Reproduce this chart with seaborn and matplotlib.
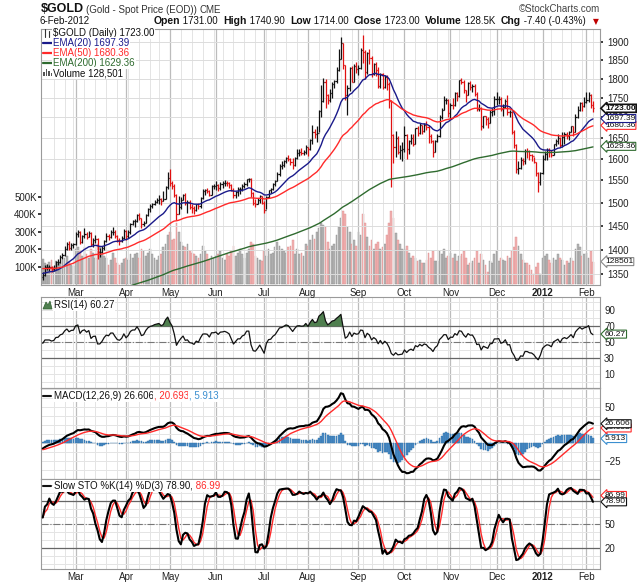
import matplotlib
matplotlib.use('Agg')
import matplotlib.pyplot as plt
import matplotlib.transforms as mtrans
from matplotlib.lines import Line2D
from matplotlib.patches import Rectangle, Polygon
from matplotlib.ticker import NullLocator
import numpy as np
import pandas as pd
import seaborn as sns

sns.set_theme(style='white')
plt.rcParams['font.family'] = ['Liberation Sans', 'DejaVu Sans']

# trading calendar (US holidays removed)
holidays = ['2011-02-21', '2011-04-22', '2011-05-30', '2011-07-04', '2011-09-05',
            '2011-11-24', '2011-12-26', '2012-01-02', '2012-01-16']
dates = pd.bdate_range('2011-02-07', '2012-02-06', freq='C', holidays=holidays)

# daily prices, Feb 2011 .. Feb 2012
close = [
    1348, 1364, 1364, 1364, 1360, 1362, 1374, 1375, 1385, 1388, 1402, 1411, 1404, 1410, 1411,
    1432, 1437, 1416, 1429, 1433, 1427, 1434, 1412, 1420, 1421, 1396, 1396, 1404, 1418, 1428, 1426, 1437, 1437, 1428, 1420, 1418, 1424, 1439,
    1429, 1437, 1453, 1459, 1459, 1474, 1466, 1453, 1456, 1473, 1486, 1493, 1496, 1502, 1505, 1508, 1504, 1509, 1535, 1556,
    1545, 1537, 1516, 1475, 1491, 1505, 1517, 1500, 1502, 1491, 1489, 1484, 1496, 1492, 1510, 1526, 1527, 1526, 1518, 1536, 1536,
    1539, 1533, 1542, 1543, 1545, 1543, 1540, 1529, 1516, 1523, 1530, 1530, 1538, 1541, 1553, 1553, 1521, 1500, 1498, 1505, 1514, 1500,
    1483, 1513, 1528, 1530, 1542, 1549, 1565, 1584, 1586, 1594, 1602, 1600, 1593, 1586, 1601, 1614, 1615, 1614, 1615, 1628,
    1622, 1644, 1665, 1658, 1662, 1715, 1742, 1790, 1758, 1743, 1761, 1786, 1793, 1823, 1852, 1896, 1835, 1758, 1775, 1828, 1792, 1834, 1825,
    1828, 1876, 1873, 1818, 1870, 1856, 1813, 1838, 1823, 1780, 1813, 1778, 1805, 1785, 1741, 1657, 1628, 1650, 1617, 1620, 1623,
    1656, 1623, 1641, 1650, 1635, 1673, 1662, 1681, 1667, 1682, 1676, 1654, 1641, 1616, 1641, 1654, 1700, 1719, 1744, 1744, 1712,
    1732, 1731, 1763, 1754, 1795, 1792, 1771, 1758, 1788, 1779, 1780, 1760, 1722, 1725, 1680, 1703, 1695, 1687, 1714, 1716, 1746,
    1746, 1748, 1722, 1727, 1742, 1713, 1714, 1664, 1633, 1575, 1578, 1598, 1594, 1619, 1618, 1608, 1606, 1593, 1567, 1546, 1566,
    1600, 1612, 1620, 1617, 1608, 1634, 1641, 1649, 1632, 1653, 1660, 1655, 1665, 1678, 1665, 1701, 1720, 1737, 1730, 1740,
    1745, 1757, 1730.4, 1723]
high = [
    1355, 1368, 1370, 1368, 1366, 1368, 1376, 1380, 1388, 1392, 1407, 1416, 1418, 1414, 1414,
    1436, 1440, 1439, 1431, 1445, 1436, 1439, 1436, 1424, 1430, 1423, 1404, 1408, 1420, 1435, 1432, 1440, 1448, 1440, 1430, 1424, 1428, 1442,
    1440, 1440, 1456, 1462, 1465, 1476, 1478, 1467, 1461, 1475, 1488, 1497, 1499, 1505, 1511, 1518, 1510, 1526, 1537, 1569,
    1577, 1548, 1542, 1520, 1514, 1512, 1520, 1522, 1506, 1505, 1498, 1493, 1498, 1500, 1513, 1531, 1530, 1533, 1528, 1539, 1542,
    1549, 1542, 1546, 1548, 1550, 1549, 1547, 1542, 1532, 1526, 1535, 1534, 1541, 1546, 1554, 1556, 1556, 1523, 1509, 1510, 1518, 1515,
    1503, 1514, 1529, 1533, 1545, 1550, 1569, 1588, 1594, 1598, 1605, 1609, 1602, 1602, 1604, 1624, 1623, 1626, 1621, 1632,
    1628, 1648, 1681, 1672, 1680, 1720, 1782, 1801, 1800, 1760, 1772, 1792, 1797, 1830, 1881, 1912, 1897, 1837, 1782, 1830, 1833, 1840, 1845,
    1835, 1882, 1920, 1878, 1872, 1880, 1862, 1842, 1844, 1830, 1815, 1815, 1810, 1810, 1790, 1745, 1660, 1667, 1655, 1632, 1640,
    1680, 1660, 1645, 1658, 1660, 1675, 1680, 1685, 1682, 1685, 1690, 1682, 1660, 1644, 1645, 1660, 1705, 1724, 1755, 1750, 1748,
    1736, 1750, 1766, 1764, 1797, 1802, 1797, 1769, 1790, 1793, 1785, 1785, 1764, 1735, 1726, 1704, 1704, 1700, 1720, 1723, 1754,
    1764, 1754, 1752, 1733, 1746, 1756, 1720, 1715, 1668, 1636, 1595, 1605, 1602, 1622, 1625, 1621, 1611, 1605, 1593, 1569, 1568,
    1608, 1619, 1625, 1626, 1621, 1636, 1646, 1659, 1652, 1664, 1665, 1665, 1667, 1680, 1679, 1709, 1730, 1740, 1738, 1752,
    1765, 1764, 1760, 1740.9]
low = [
    1338, 1346, 1358, 1356, 1354, 1356, 1360, 1368, 1372, 1380, 1386, 1400, 1400, 1400, 1404,
    1410, 1426, 1412, 1414, 1425, 1422, 1426, 1408, 1406, 1414, 1381, 1385, 1394, 1400, 1416, 1420, 1424, 1430, 1424, 1415, 1410, 1416, 1421,
    1420, 1424, 1432, 1452, 1448, 1458, 1462, 1445, 1450, 1455, 1470, 1480, 1488, 1494, 1500, 1498, 1495, 1503, 1507, 1531,
    1536, 1530, 1512, 1462, 1475, 1486, 1505, 1495, 1478, 1486, 1478, 1475, 1481, 1485, 1488, 1507, 1517, 1522, 1515, 1517, 1530,
    1527, 1525, 1527, 1533, 1536, 1536, 1532, 1525, 1511, 1510, 1515, 1519, 1526, 1533, 1538, 1546, 1513, 1495, 1490, 1496, 1500, 1497,
    1478, 1487, 1510, 1521, 1527, 1537, 1549, 1560, 1576, 1580, 1590, 1594, 1585, 1576, 1584, 1600, 1607, 1609, 1608, 1612,
    1607, 1620, 1636, 1650, 1640, 1665, 1700, 1738, 1725, 1733, 1740, 1750, 1775, 1788, 1820, 1852, 1826, 1745, 1705, 1768, 1790, 1790, 1815,
    1810, 1826, 1843, 1800, 1812, 1840, 1805, 1810, 1808, 1775, 1775, 1772, 1775, 1770, 1725, 1535, 1590, 1605, 1610, 1600, 1595,
    1615, 1600, 1610, 1635, 1630, 1635, 1655, 1660, 1660, 1665, 1668, 1638, 1637, 1603, 1615, 1640, 1652, 1695, 1718, 1735, 1702,
    1695, 1722, 1730, 1742, 1752, 1786, 1763, 1738, 1758, 1770, 1766, 1755, 1717, 1715, 1670, 1674, 1681, 1675, 1685, 1703, 1705,
    1732, 1734, 1717, 1703, 1724, 1707, 1700, 1660, 1625, 1567, 1565, 1576, 1585, 1588, 1601, 1597, 1595, 1590, 1560, 1523, 1540,
    1565, 1598, 1597, 1603, 1603, 1608, 1631, 1636, 1627, 1628, 1635, 1648, 1644, 1664, 1655, 1664, 1698, 1715, 1715, 1726,
    1736, 1738, 1724, 1714]
volume_k = [
    145, 120, 110, 125, 140, 100, 130, 115, 120, 135, 150, 160, 125, 110, 105,
    200, 210, 190, 160, 215, 170, 150, 200, 180, 150, 230, 210, 170, 160, 150, 110, 140, 180, 150, 120, 110, 120, 145,
    150, 140, 170, 150, 175, 180, 150, 200, 190, 160, 180, 200, 170, 150, 140, 160, 175, 210, 230, 280,
    300, 250, 260, 350, 300, 240, 220, 210, 230, 190, 180, 175, 160, 150, 170, 220, 190, 170, 140, 160, 150,
    160, 170, 190, 150, 140, 170, 160, 190, 220, 160, 180, 200, 175, 150, 180, 200, 240, 230, 160, 150, 140, 130,
    190, 160, 200, 170, 180, 210, 240, 220, 200, 190, 180, 210, 220, 250, 170, 200, 170, 180, 160, 230,
    220, 250, 280, 260, 300, 320, 350, 340, 330, 240, 200, 220, 230, 280, 330, 380, 420, 400, 330, 300, 230, 250, 220,
    300, 280, 400, 350, 270, 220, 250, 200, 230, 240, 200, 210, 230, 280, 350, 420, 380, 290, 250, 230, 200,
    200, 220, 180, 150, 160, 150, 130, 140, 120, 120, 140, 180, 150, 190, 130, 130, 190, 170, 200, 150, 160,
    180, 150, 170, 130, 160, 170, 190, 150, 110, 120, 130, 150, 190, 120, 170, 140, 110, 70, 130, 120, 170,
    190, 130, 150, 140, 130, 160, 150, 190, 210, 270, 220, 170, 140, 120, 120, 110, 80, 60, 100, 120, 60,
    150, 160, 170, 140, 120, 150, 140, 170, 150, 140, 110, 130, 120, 150, 130, 200, 230, 210, 160, 170,
    180, 150, 190, 128.5]

first_open = 1345
last_open = 1731.0
ema_seed = {20: 1352, 50: 1362, 200: 1285}
macd_seed = (1345, 1354, -10)   # ema12, ema26, signal
rsi_seed = (7.0, 7.6)           # avg gain, avg loss

price_ticks = list(range(1350, 1901, 50))
vol_ticks = [100, 200, 300, 400, 500]

df = pd.DataFrame({'close': close, 'high': high, 'low': low, 'vol': volume_k}, index=dates)
n = len(df)
idx = np.arange(n)
c = df['close'].to_numpy(float)
opens = np.r_[first_open, c[:-1]]
opens[-1] = last_open
prev = np.r_[first_open, c[:-1]]
up = c >= prev


def ema(values, span, seed):
    a = 2.0 / (span + 1)
    out, e = [], seed
    for v in values:
        e = a * v + (1 - a) * e
        out.append(e)
    return np.array(out)


ema20 = ema(c, 20, ema_seed[20])
ema50 = ema(c, 50, ema_seed[50])
ema200 = ema(c, 200, ema_seed[200])

# RSI (Wilder)
ag, al = rsi_seed
rsi = []
d = np.diff(np.r_[first_open, c])
for x in d:
    ag = (ag * 13 + max(x, 0)) / 14
    al = (al * 13 + max(-x, 0)) / 14
    rsi.append(100 - 100 / (1 + ag / al))
rsi = np.array(rsi)

# MACD
macd = ema(c, 12, macd_seed[0]) - ema(c, 26, macd_seed[1])
signal = ema(macd, 9, macd_seed[2])
hist = macd - signal

# slow stochastics
ll = df['low'].rolling(14, min_periods=1).min()
hh = df['high'].rolling(14, min_periods=1).max()
fast_k = 100 * (df['close'] - ll) / (hh - ll)
slow_k = fast_k.rolling(3, min_periods=1).mean().to_numpy()
slow_d = pd.Series(slow_k).rolling(3, min_periods=1).mean().to_numpy()

# calendar grid
week_no = dates.isocalendar().week.to_numpy()
week_idx = [i for i in range(1, n) if week_no[i] != week_no[i - 1]]
month_idx = [i for i in range(1, n) if dates[i].month != dates[i - 1].month]
month_lbl = ['2012' if dates[i].month == 1 else dates[i].strftime('%b') for i in month_idx]

W, H = 640, 584
fig = plt.figure(figsize=(6.4, 5.84), dpi=100)
fig.patch.set_facecolor('white')


def px_axes(x0, y0, x1, y1):
    return fig.add_axes([x0 / W, 1 - y1 / H, (x1 - x0) / W, (y1 - y0) / H])


ax_p = px_axes(41, 29, 600, 285)
ax_r = px_axes(41, 297, 600, 388)
ax_m = px_axes(41, 388, 600, 479)
ax_s = px_axes(41, 479, 600, 569)
XLIM = (-0.8, 254.2)


def style(ax):
    ax.set_xlim(XLIM)
    for sp in ax.spines.values():
        sp.set_color('#9a9a9a')
        sp.set_linewidth(0.8)
    ax.yaxis.tick_right()
    ax.tick_params(axis='both', labelsize=7, colors='#222222', length=0, pad=3)
    ax.set_xticks(month_idx)
    ax.set_xticklabels(month_lbl)
    ax.tick_params(axis='x', labelbottom=False)
    for i in week_idx:
        ax.axvline(i, color='#e4e4e4', lw=0.7, zorder=0)
    for i in month_idx:
        ax.axvline(i, color='#bcbcbc', lw=0.9, zorder=0)


def bottom_labels(ax):
    ax.tick_params(axis='x', labelbottom=True, pad=2)
    for t in ax.get_xticklabels():
        if t.get_text() == '2012':
            t.set_fontweight('bold')


def tag(ax, yval, s, ec, bold=False, tc='#111111', lw=0.8):
    tr = mtrans.blended_transform_factory(ax.transAxes, ax.transData)
    ax.text(1.009, yval, s, transform=tr, fontsize=6, va='center', ha='left', color=tc,
            fontweight='bold' if bold else 'normal', clip_on=False, zorder=20,
            bbox=dict(boxstyle='larrow,pad=0.06', fc='white', ec=ec, lw=lw))


# ---------------- price panel ----------------
vx = ax_p.twinx()
ax_p.set_zorder(vx.get_zorder() + 1)
ax_p.patch.set_visible(False)
style(ax_p)
vx.set_xlim(XLIM)
for sp in vx.spines.values():
    sp.set_visible(False)
vcol = np.where(up, '#b5b5b5', '#f3b3b3')
vedge = np.where(up, '#8f8f8f', '#d98c8c')
vx.bar(idx, df['vol'], width=0.8, color=vcol, edgecolor=vedge, linewidth=0.3)
vx.set_ylim(-6, 1465)
vx.set_yticks(vol_ticks)
vx.set_yticklabels([f'{v}K' for v in vol_ticks])
vx.yaxis.tick_left()
vx.tick_params(axis='y', labelsize=7, colors='#222222', length=2, pad=1)
tag(vx, volume_k[-1], '128501', '#888888')

ax_p.set_yscale('log')
ax_p.set_ylim(1329, 1936)
ax_p.set_yticks(price_ticks)
ax_p.set_yticklabels([str(t) for t in price_ticks])
ax_p.yaxis.set_minor_locator(NullLocator())
ax_p.tick_params(axis='y', length=2, pad=3)
for t in price_ticks:
    ax_p.axhline(t, color='#dcdcdc', lw=0.7, zorder=0)

bcol = np.where(up, '#111111', '#e01010')
ax_p.vlines(idx, df['low'], df['high'], colors=bcol, lw=0.9, zorder=3)
ax_p.hlines(opens, idx - 0.5, idx, colors=bcol, lw=0.9, zorder=3)
ax_p.hlines(c, idx, idx + 0.5, colors=bcol, lw=0.9, zorder=3)

sns.lineplot(x=idx, y=ema20, ax=ax_p, color='#1a1a8a', lw=1.0, legend=False, zorder=4)
sns.lineplot(x=idx, y=ema50, ax=ax_p, color='#ff2a2a', lw=1.0, legend=False, zorder=4)
sns.lineplot(x=idx, y=ema200, ax=ax_p, color='#2f6b2f', lw=1.0, legend=False, zorder=4)
ax_p.set_ylim(1329, 1936)
ax_p.set_xlim(XLIM)
ax_p.set_xlabel('')
ax_p.set_ylabel('')
bottom_labels(ax_p)

tag(ax_p, 1629.36, '1629.36', '#2f6b2f')
tag(ax_p, 1680.36, '1680.36', '#ff2a2a')
tag(ax_p, 1697.39, '1697.39', '#1a1a8a')
tag(ax_p, 1723.00, '1723.00', '#111111', bold=True, lw=1.2)

# ---------------- RSI ----------------
style(ax_r)
for v in range(0, 101, 10):
    ax_r.axhline(v, color='#e4e4e4', lw=0.7, zorder=0)
sns.lineplot(x=idx, y=rsi, ax=ax_r, color='#111111', lw=0.9, legend=False, zorder=4)
ax_r.fill_between(idx, rsi, 70, where=rsi > 70, interpolate=True, color='#4f7f4f', zorder=3, lw=0)
ax_r.axhline(70, color='#666666', lw=0.9, zorder=2)
ax_r.axhline(30, color='#666666', lw=0.9, zorder=2)
ax_r.axhline(50, color='#777777', lw=0.8, ls='-.', zorder=2)
ax_r.set_ylim(-7, 106.6)
ax_r.set_yticks([10, 30, 50, 70, 90])
ax_r.set_xlim(XLIM)
ax_r.set_xlabel('')
tag(ax_r, 60.27, '60.27', '#2f6b2f')

# ---------------- MACD ----------------
style(ax_m)
for v in np.arange(-50, 76, 12.5):
    ax_m.axhline(v, color='#e4e4e4', lw=0.7, zorder=0)
ax_m.bar(idx, hist, width=0.8, color='#4a8cc6', edgecolor='#2f6fa8', linewidth=0.3, zorder=2)
sns.lineplot(x=idx, y=macd, ax=ax_m, color='#000000', lw=1.5, legend=False, zorder=4)
sns.lineplot(x=idx, y=signal, ax=ax_m, color='#ff2a2a', lw=1.0, legend=False, zorder=4)
ax_m.set_ylim(-50.6, 76.5)
ax_m.set_yticks([50, -25])
ax_m.set_xlim(XLIM)
tag(ax_m, 5.913, '5.913', '#3b8fd0')
tag(ax_m, 20.693, '20.693', '#ff2a2a')
tag(ax_m, 26.606, '26.606', '#111111')

# ---------------- Slow STO ----------------
style(ax_s)
for v in range(0, 101, 10):
    ax_s.axhline(v, color='#e4e4e4', lw=0.7, zorder=0)
ax_s.axhline(80, color='#666666', lw=0.9, zorder=2)
ax_s.axhline(20, color='#666666', lw=0.9, zorder=2)
ax_s.axhline(50, color='#777777', lw=0.8, ls='-.', zorder=2)
sns.lineplot(x=idx, y=slow_d, ax=ax_s, color='#ff2a2a', lw=1.0, legend=False, zorder=4)
sns.lineplot(x=idx, y=slow_k, ax=ax_s, color='#000000', lw=1.5, legend=False, zorder=5)
ax_s.set_ylim(-6.8, 108)
ax_s.set_yticks([20, 50, 80])
ax_s.set_xlim(XLIM)
bottom_labels(ax_s)
tag(ax_s, 86.99, '86.99', '#ff2a2a')
tag(ax_s, 78.90, '78.90', '#111111')


# ---------------- texts ----------------
def ftext(x, y, s, **kw):
    kw.setdefault('fontsize', 7)
    kw.setdefault('va', 'center')
    kw.setdefault('ha', 'left')
    kw.setdefault('color', '#111111')
    return fig.text(x / W, 1 - y / H, s, **kw)


def fline(x0, x1, y, color, lw=1.6):
    fig.add_artist(Line2D([x0 / W, x1 / W], [1 - y / H, 1 - y / H], color=color, lw=lw,
                          transform=fig.transFigure))


renderer = fig.canvas.get_renderer()


def seq(x, y, pieces, box=False, gap=0.0):
    for s, col, kw in pieces:
        if box:
            kw = dict(kw, bbox=dict(fc='white', ec='none', pad=0.6))
        t = ftext(x, y, s, color=col, **kw)
        x += t.get_window_extent(renderer=renderer).width + gap


ftext(41, 9, '$GOLD', fontsize=9, fontweight='bold')
ftext(86, 10, '(Gold - Spot Price (EOD))', fontsize=7, color='#333333')
ftext(199, 10, 'CME', fontsize=7, color='#333333')
ftext(600, 9, '\u00a9StockCharts.com', fontsize=7, color='#444444', ha='right')
ftext(40, 21, '6-Feb-2012')
B = {'fontweight': 'bold', 'fontsize': 7.5}
N = {}
seq(154, 21, [('Open', '#111111', B), (' 1731.00  ', '#111111', N),
              ('High', '#111111', B), (' 1740.90  ', '#111111', N),
              ('Low', '#111111', B), (' 1714.00  ', '#111111', N),
              ('Close', '#111111', B), (' 1723.00  ', '#111111', N),
              ('Volume', '#111111', B), (' 128.5K  ', '#111111', N),
              ('Chg', '#111111', B), (' -7.40 (-0.43%)', '#111111', N)])
ftext(593, 22, '\u25bc', fontsize=5.5, color='#c00000', family='DejaVu Sans')

# price legend
for y, s, col in [(33, '$GOLD (Daily) 1723.00', '#111111'), (43, 'EMA(20) 1697.39', '#1a1a8a'),
                  (53, 'EMA(50) 1680.36', '#ff2a2a'), (63, 'EMA(200) 1629.36', '#2f6b2f'),
                  (73, 'Volume 128,501', '#111111')]:
    ftext(53, y, s, color=col, bbox=dict(fc='white', ec='none', pad=0.8))
fline(43, 52, 43, '#1a1a8a')
fline(43, 52, 53, '#ff2a2a')
fline(43, 52, 63, '#2f6b2f')
for x0, h in [(43, 4), (45.5, 7), (48, 5), (50.5, 3)]:
    fig.add_artist(Rectangle((x0 / W, 1 - 76 / H), 1.6 / W, h / H, transform=fig.transFigure,
                             color='#555555', lw=0))
for x0, y0, y1 in [(45, 29, 37), (49, 31, 37)]:
    fig.add_artist(Line2D([x0 / W, x0 / W], [1 - y1 / H, 1 - y0 / H], color='#333333', lw=0.8,
                          transform=fig.transFigure))

# panel headers
fig.add_artist(Polygon([(43 / W, 1 - 309 / H), (46 / W, 1 - 302 / H), (48 / W, 1 - 305 / H),
                        (50 / W, 1 - 301 / H), (52 / W, 1 - 309 / H)], closed=True,
                       transform=fig.transFigure, fc='#4f7f4f', ec='#2f5f2f', lw=0.5))
ftext(54, 305, 'RSI(14) 60.27', bbox=dict(fc='white', ec='none', pad=0.6))
fline(43, 51, 396, '#111111', lw=1.5)
seq(54, 396, [('MACD(12,26,9) 26.606', '#111111', N), (', 20.693', '#ff2a2a', N),
              (', 5.913', '#3b8fd0', N)], box=True)
fline(43, 51, 486, '#111111', lw=1.5)
seq(54, 486, [('Slow STO %K(14) %D(3) 78.90,', '#111111', N), (' 86.99', '#ff2a2a', N)], box=True)

fig.savefig('out.png', dpi=100, facecolor='white')
